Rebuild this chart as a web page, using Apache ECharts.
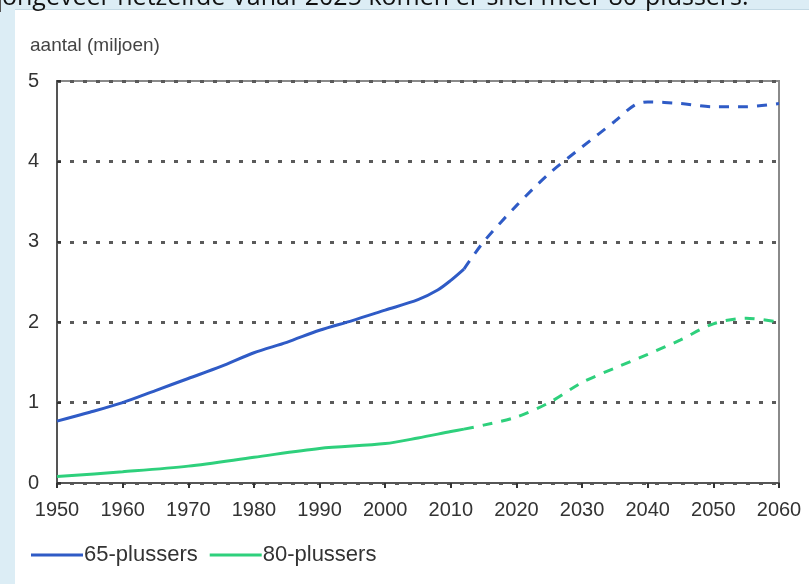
<!DOCTYPE html>
<html>
<head>
<meta charset="utf-8">
<script src="https://cdn.jsdelivr.net/npm/echarts@6/dist/echarts.min.js"></script>
<style>
html,body{margin:0;padding:0;background:#fff;}
#chart{width:809px;height:584px;}
</style>
</head>
<body>
<div id="chart"></div>
<script>
// ---- data ----
const seriesNames = ['65-plussers', '80-plussers'];
const years65Obs = [1950, 1955, 1960, 1965, 1970, 1975, 1980, 1985, 1990, 1995, 2000, 2005, 2008, 2010, 2012];
const vals65Obs  = [0.77, 0.88, 1.00, 1.15, 1.30, 1.45, 1.62, 1.75, 1.90, 2.02, 2.15, 2.28, 2.40, 2.52, 2.66];
const years65Proj = [2012, 2015, 2020, 2025, 2030, 2035, 2038, 2040, 2045, 2050, 2055, 2060];
const vals65Proj  = [2.66, 3.00, 3.45, 3.85, 4.18, 4.50, 4.70, 4.74, 4.72, 4.68, 4.68, 4.72];
const years80Obs = [1950, 1960, 1970, 1980, 1990, 2000, 2005, 2010, 2012];
const vals80Obs  = [0.08, 0.14, 0.21, 0.32, 0.43, 0.49, 0.56, 0.64, 0.67];
const years80Proj = [2012, 2015, 2020, 2025, 2030, 2035, 2040, 2045, 2050, 2055, 2060];
const vals80Proj  = [0.67, 0.72, 0.82, 1.00, 1.25, 1.43, 1.60, 1.78, 1.98, 2.05, 2.00];
const xTicks = [1950, 1960, 1970, 1980, 1990, 2000, 2010, 2020, 2030, 2040, 2050, 2060];
const yTicks = [0, 1, 2, 3, 4, 5];
const yAxisTitle = 'aantal (miljoen)';
const headerText = 'ongeveer netzelfde Vanaf 2025 komen er snel meer 80-plussers.';

const pair = (xs, vs) => xs.map((x, i) => [x, vs[i]]);
const BLUE = '#2f5bc6';
const GREEN = '#2ed07c';
const FONT = '"Liberation Sans", Arial, sans-serif';

const chart = echarts.init(document.getElementById('chart'));
chart.setOption({
  animation: false,
  backgroundColor: '#ffffff',
  grid: {
    left: 57, right: 30, top: 81, bottom: 101,
    show: true, borderColor: '#8a8a8a', borderWidth: 2, backgroundColor: 'transparent'
  },
  xAxis: {
    type: 'value', min: xTicks[0], max: xTicks[xTicks.length - 1], interval: 10,
    axisLine: { show: true, lineStyle: { color: '#555', width: 2 } },
    axisTick: { show: true, length: 5, lineStyle: { color: '#333', width: 2 } },
    axisLabel: { color: '#333', fontSize: 20, fontFamily: FONT, margin: 17, formatter: v => String(v) },
    splitLine: { show: false }
  },
  yAxis: {
    type: 'value', min: yTicks[0], max: yTicks[yTicks.length - 1], interval: 1,
    axisLine: { show: true, lineStyle: { color: '#555', width: 2 } },
    axisTick: { show: true, inside: true, length: 4, lineStyle: { color: '#333', width: 2 } },
    axisLabel: { color: '#333', fontSize: 20, fontFamily: FONT, margin: 18 },
    splitLine: {
      show: true,
      lineStyle: { color: '#5a5a5a', width: 3, type: [4, 9] },
    }
  },
  legend: {
    data: seriesNames,
    left: 26, top: 539,
    icon: 'rect', itemWidth: 52, itemHeight: 3, itemGap: 12,
    textStyle: { color: '#333', fontSize: 22, fontFamily: FONT, padding: [0, 0, 0, -4] }
  },
  graphic: [
    { type: 'rect', left: 0, top: 0, shape: { width: 809, height: 9 }, style: { fill: '#dcedf5' }, silent: true },
    { type: 'rect', left: 0, top: 0, shape: { width: 15, height: 584 }, style: { fill: '#dcedf5' }, silent: true },
    { type: 'rect', left: 15, top: 9, shape: { width: 794, height: 1 }, style: { fill: '#c3d9e4' }, silent: true },
    { type: 'rect', left: 0, top: 0, shape: { width: 1, height: 12 }, style: { fill: '#555' }, silent: true },
    { type: 'text', x: 2, y: 10, style: { text: headerText, font: '25px "Open Sans", sans-serif', fill: '#111', verticalAlign: 'bottom' }, silent: true },
    { type: 'text', x: 30, y: 46, style: { text: yAxisTitle, font: '19px ' + FONT, fill: '#444', verticalAlign: 'middle' }, silent: true }
  ],
  series: [
    { name: seriesNames[0], type: 'line', data: pair(years65Obs, vals65Obs), smooth: 0.3, showSymbol: false,
      lineStyle: { color: BLUE, width: 3 }, itemStyle: { color: BLUE } },
    { name: seriesNames[0] + ' prognose', type: 'line', data: pair(years65Proj, vals65Proj), smooth: 0.3, showSymbol: false,
      lineStyle: { color: BLUE, width: 3, type: [10, 9] }, itemStyle: { color: BLUE } },
    { name: seriesNames[1], type: 'line', data: pair(years80Obs, vals80Obs), smooth: 0.3, showSymbol: false,
      lineStyle: { color: GREEN, width: 3 }, itemStyle: { color: GREEN } },
    { name: seriesNames[1] + ' prognose', type: 'line', data: pair(years80Proj, vals80Proj), smooth: 0.3, showSymbol: false,
      lineStyle: { color: GREEN, width: 3, type: [10, 9] }, itemStyle: { color: GREEN } }
  ]
});
</script>
</body>
</html>
